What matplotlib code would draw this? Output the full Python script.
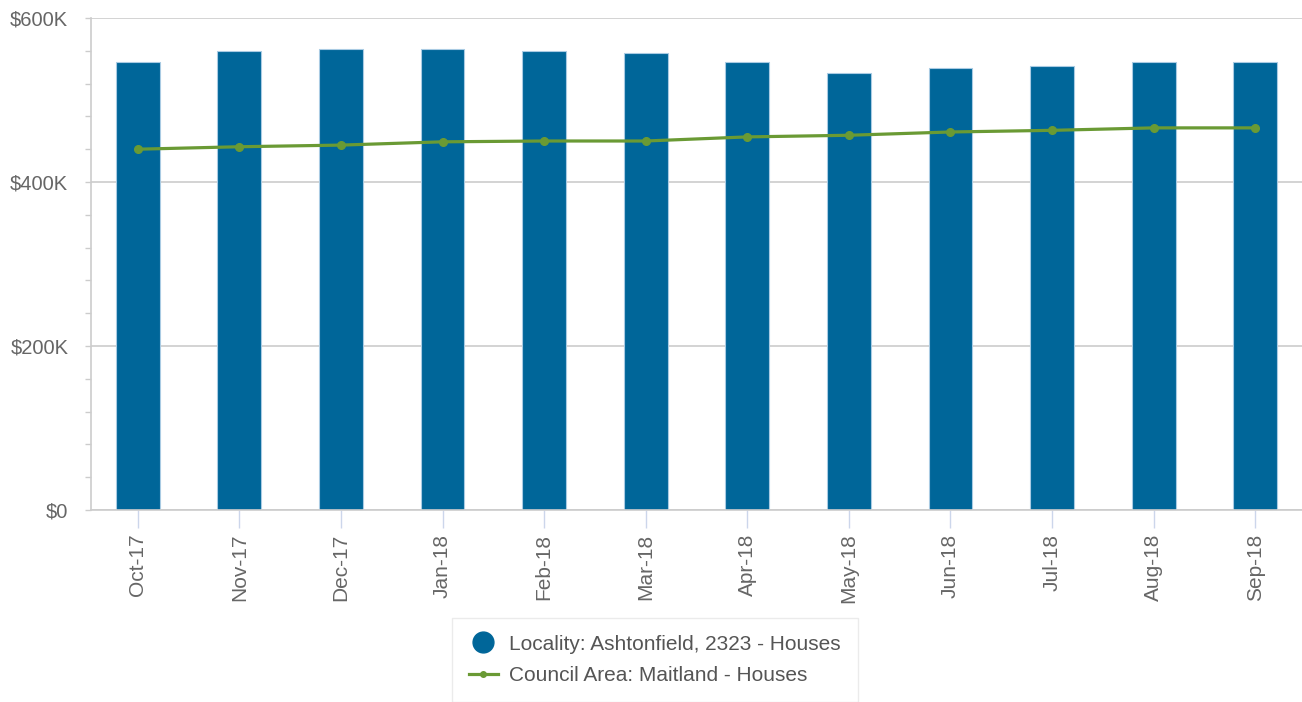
import matplotlib
matplotlib.use("Agg")
import matplotlib.pyplot as plt
from matplotlib.ticker import MultipleLocator, FuncFormatter
from matplotlib.lines import Line2D
import numpy as np

months = ["Oct-17", "Nov-17", "Dec-17", "Jan-18", "Feb-18", "Mar-18",
          "Apr-18", "May-18", "Jun-18", "Jul-18", "Aug-18", "Sep-18"]
locality = [546000, 560000, 562000, 562000, 560000, 557000,
            546000, 533000, 539000, 541000, 546000, 546000]   # Ashtonfield bars
council = [440000, 443000, 445000, 449000, 450000, 450000,
           455000, 457000, 461000, 463000, 466000, 466000]    # Maitland line

bar_col = "#006699"
line_col = "#6a9a34"
grey = "#666666"

plt.rcParams["font.family"] = ["Liberation Sans", "DejaVu Sans"]

fig = plt.figure(figsize=(13.02, 7.02), dpi=100)
ax = fig.add_axes([91/1302, 1 - 510/702, 1 - 91/1302, (510 - 18)/702])

x = np.arange(len(months))
ax.bar(x, locality, width=0.43, color=bar_col, edgecolor="#a9cbe3",
       linewidth=0.8, zorder=2)
ax.plot(x, council, color=line_col, lw=2.3, marker="o", ms=5.5, zorder=3)

ax.set_xlim(-0.46, len(months) - 1 + 0.46)
ax.set_ylim(0, 600000)
ax.yaxis.set_major_locator(MultipleLocator(200000))
ax.yaxis.set_minor_locator(MultipleLocator(40000))
ax.yaxis.set_major_formatter(FuncFormatter(lambda v, p: "$0" if v == 0 else "${:.0f}K".format(v/1000)))
ax.grid(axis="y", which="major", color="#cccccc", lw=1.2, zorder=0)

ax.set_xticks(x)
ax.set_xticklabels(months, rotation=90)
ax.tick_params(axis="x", length=13, width=1, color="#ccd6eb", pad=4,
               labelsize=15, labelcolor=grey)
ax.tick_params(axis="y", which="both", length=4.3, width=1, color="#cccccc",
               pad=12, labelsize=14.5, labelcolor=grey)

for s in ["top", "right"]:
    ax.spines[s].set_visible(False)
for s in ["left", "bottom"]:
    ax.spines[s].set_color("#cccccc")
    ax.spines[s].set_linewidth(1.2)

handles = [
    Line2D([], [], color=bar_col, marker="o", ms=15, lw=0),
    Line2D([], [], color=line_col, marker="o", ms=4, lw=2.3),
]
labels = ["Locality: Ashtonfield, 2323 - Houses", "Council Area: Maitland - Houses"]
leg = fig.legend(handles, labels, loc="upper center", bbox_to_anchor=(0.503, 1 - 618/702),
                 borderaxespad=0, fontsize=15, frameon=True, fancybox=False,
                 edgecolor="#e6e6e6", handlelength=1.4, handletextpad=0.55,
                 labelspacing=0.6, borderpad=0.8, labelcolor="#555555")
leg.get_frame().set_linewidth(1.0)

fig.savefig("out.png", dpi=100)
